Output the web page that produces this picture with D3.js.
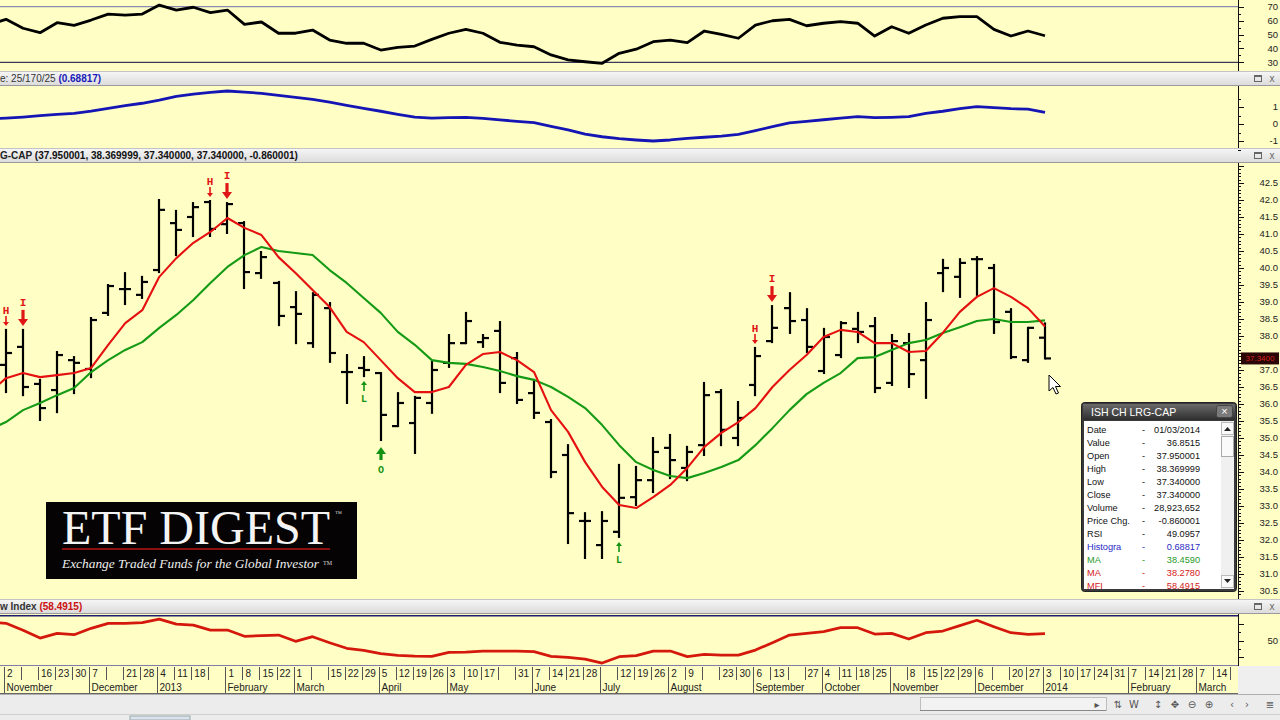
<!DOCTYPE html>
<html><head><meta charset="utf-8">
<script src="https://cdnjs.cloudflare.com/ajax/libs/d3/7.8.5/d3.min.js"></script>
<style>html,body{margin:0;padding:0;overflow:hidden;background:#fff}svg{display:block}</style>
</head><body>
<svg id="chart" width="1280" height="720"></svg>
<script>
// ---------------- DATA ----------------
const weekDates = ["2012-10-26","2012-11-02","2012-11-09","2012-11-16","2012-11-23","2012-11-30","2012-12-07","2012-12-14","2012-12-21","2012-12-28",
"2013-01-04","2013-01-11","2013-01-18","2013-01-25","2013-02-01","2013-02-08","2013-02-15","2013-02-22","2013-03-01","2013-03-08","2013-03-15","2013-03-22","2013-03-29",
"2013-04-05","2013-04-12","2013-04-19","2013-04-26","2013-05-03","2013-05-10","2013-05-17","2013-05-24","2013-05-31","2013-06-07","2013-06-14","2013-06-21","2013-06-28",
"2013-07-05","2013-07-12","2013-07-19","2013-07-26","2013-08-02","2013-08-09","2013-08-16","2013-08-23","2013-08-30","2013-09-06","2013-09-13","2013-09-20","2013-09-27",
"2013-10-04","2013-10-11","2013-10-18","2013-10-25","2013-11-01","2013-11-08","2013-11-15","2013-11-22","2013-11-29","2013-12-06","2013-12-13","2013-12-20","2013-12-27","2014-01-03"];

const openP = [null,37.15,37.68,36.59,36.41,37.29,37.03,38.68,39.38,39.21,39.94,41.32,41.50,41.94,41.29,41.32,39.85,39.56,38.85,37.79,38.82,36.94,37.06,36.91,35.35,35.44,36.03,37.21,37.79,37.82,38.15,37.35,36.32,35.47,34.50,32.56,31.85,32.24,33.26,33.76,34.71,34.12,34.79,36.35,35.00,36.56,37.85,38.82,38.47,36.97,37.44,38.21,38.29,36.62,37.79,37.29,39.85,39.74,40.26,40.00,38.71,37.29,37.95];
const highP = [null,38.18,38.18,36.71,37.53,37.38,38.53,39.50,39.85,39.74,42.00,41.68,41.91,41.97,41.91,41.35,40.47,39.59,39.29,39.26,38.97,37.44,37.38,36.91,36.32,36.21,37.24,38.03,38.68,38.03,38.41,37.50,36.71,35.53,34.79,32.79,32.82,34.21,34.15,35.00,35.09,34.74,36.62,36.41,36.06,37.65,38.88,39.26,38.79,38.21,38.41,38.68,38.53,38.03,38.06,38.97,40.24,40.26,40.32,40.09,38.79,38.24,38.37];
const lowP = [null,36.35,36.26,35.53,35.76,36.32,36.79,38.62,38.94,39.12,39.88,40.38,40.94,40.94,41.03,39.41,39.71,38.32,37.79,37.68,37.24,36.03,36.82,34.94,35.35,34.56,35.74,37.09,37.79,37.68,36.35,36.03,35.59,33.85,31.91,31.47,31.47,32.09,33.03,33.41,33.82,33.76,34.50,34.79,34.79,36.26,37.82,38.09,37.53,36.91,37.38,37.82,36.35,36.56,36.50,36.18,39.32,39.15,39.21,38.09,37.35,37.24,37.34];
const closeP = [null,37.50,36.50,35.88,37.44,37.21,38.47,39.47,39.38,39.59,41.71,41.12,41.79,41.15,41.88,39.88,40.32,38.59,38.65,39.21,37.50,36.94,37.00,35.68,36.03,36.18,37.00,37.79,38.44,37.94,36.62,36.12,35.74,34.00,32.79,32.56,32.56,33.24,33.76,34.59,34.35,34.59,36.26,35.24,35.59,37.41,38.24,38.44,37.68,37.97,38.38,38.12,36.47,37.85,36.88,38.47,40.00,40.15,40.26,38.41,37.38,38.24,37.34];

const maRed = [36.32,36.76,36.91,36.79,36.85,36.91,37.06,37.74,38.38,38.76,39.74,40.29,40.74,41.06,41.47,41.18,40.97,40.32,39.85,39.35,38.85,38.12,37.82,37.29,36.76,36.35,36.35,36.50,37.15,37.47,37.53,37.29,36.94,35.82,35.18,34.29,33.56,33.03,32.94,33.26,33.62,34.12,34.74,35.15,35.47,35.88,36.50,37.00,37.44,37.97,38.18,38.12,37.79,37.79,37.53,37.56,38.09,38.71,39.15,39.41,39.15,38.82,38.278];
const maGreen = [35.24,35.47,35.82,36.03,36.26,36.47,36.94,37.29,37.59,37.82,38.24,38.62,39.06,39.56,40.03,40.38,40.62,40.50,40.44,40.38,39.94,39.56,39.12,38.68,38.12,37.74,37.29,37.21,37.18,37.09,36.97,36.82,36.71,36.50,36.21,35.88,35.38,34.79,34.29,34.06,33.88,33.82,33.97,34.15,34.35,34.79,35.29,35.82,36.29,36.62,36.91,37.35,37.38,37.59,37.79,37.88,38.09,38.26,38.44,38.50,38.41,38.41,38.459];
const rsi = [57,60.9,54.5,51.3,58.5,56.6,60.4,64.7,64.0,64.7,71.2,67.6,69.6,65.7,67.6,57.3,59.0,50.9,50.9,53.2,46.0,43.7,43.7,38.8,40.8,41.7,46.5,50.9,53.7,50.9,44.4,42.4,41.2,35.3,31.7,30.4,29.3,36.5,39.4,44.8,46.0,44.1,52.5,50.1,47.3,56.8,59.9,60.9,56.3,58.1,59.2,58.1,48.9,55.6,50.9,56.8,61.7,62.8,62.8,53.7,48.9,52.5,49.0957];
const macdHist = [0.30,0.35,0.41,0.49,0.57,0.63,0.76,0.92,1.08,1.22,1.41,1.63,1.76,1.86,1.94,1.88,1.80,1.69,1.57,1.45,1.28,1.10,0.92,0.75,0.57,0.41,0.35,0.37,0.39,0.33,0.24,0.16,0.08,-0.14,-0.35,-0.59,-0.75,-0.86,-0.94,-1.00,-0.94,-0.84,-0.78,-0.71,-0.61,-0.39,-0.16,0.06,0.16,0.25,0.35,0.43,0.37,0.39,0.43,0.63,0.75,0.90,1.02,0.96,0.90,0.88,0.68817];
const mfi = [72,70.9,62.5,53.2,58.8,57.2,64.9,70.9,70.9,71.6,76.0,70.0,68.8,62.8,62.8,55.3,56.0,56.8,49.3,54.8,47.6,40.9,38.5,34.4,32.5,31.6,31.3,36.1,36.4,37.6,37.6,37.6,36.8,31.3,30.1,28.0,23.2,30.8,32.0,37.6,37.6,30.8,33.7,32.8,32.8,38.8,47.6,56.8,58.8,60.8,65.6,65.6,58.0,58.8,52.0,59.6,61.6,68.0,74.5,66.8,59.6,57.7,58.4915];

// signal markers (index into weekDates) and their letters
const signalIdx = [1,2,13,14,22,23,37,45,46];
const signalType = ["H","I","H","I","L","O","L","H","I"];

// axis ticks
const priceTicks = [30.5,31.0,31.5,32.0,32.5,33.0,33.5,34.0,34.5,35.0,35.5,36.0,36.5,37.0,38.0,38.5,39.0,39.5,40.0,40.5,41.0,41.5,42.0,42.5];
const rsiTicks = [30,40,50,60,70];
const macdTicks = [-1,0,1];
const mfiTicks = [50];
const dayLabelDates = ["2012-11-02","2012-11-16","2012-11-23","2012-11-30","2012-12-07","2012-12-21","2012-12-28","2013-01-04","2013-01-11","2013-01-18",
"2013-02-01","2013-02-08","2013-02-15","2013-02-22","2013-03-01","2013-03-15","2013-03-22","2013-03-29","2013-04-05","2013-04-12","2013-04-19","2013-04-26",
"2013-05-03","2013-05-10","2013-05-17","2013-05-31","2013-06-07","2013-06-14","2013-06-21","2013-06-28","2013-07-12","2013-07-19","2013-07-26","2013-08-02","2013-08-09",
"2013-08-23","2013-08-30","2013-09-06","2013-09-13","2013-09-27","2013-10-04","2013-10-11","2013-10-18","2013-10-25","2013-11-08","2013-11-15","2013-11-22","2013-11-29",
"2013-12-06","2013-12-20","2013-12-27","2014-01-03","2014-01-10","2014-01-17","2014-01-24","2014-01-31","2014-02-07","2014-02-14","2014-02-21","2014-02-28","2014-03-07","2014-03-14"];
const monthStarts = ["2012-11-02","2012-12-07","2013-01-04","2013-02-01","2013-03-01","2013-04-05","2013-05-03","2013-06-07","2013-07-05","2013-08-02","2013-09-06","2013-10-04","2013-11-01","2013-12-06","2014-01-03","2014-02-07","2014-03-07"];
const monthNames = ["November","December","2013","February","March","April","May","June","July","August","September","October","November","December","2014","February","March"];

// data window
const dwLabels = ["Date","Value","Open","High","Low","Close","Volume","Price Chg.","RSI","Histogra","MA","MA","MFI"];
const dwValues = ["01/03/2014","36.8515","37.950001","38.369999","37.340000","37.340000","28,923,652","-0.860001","49.0957","0.68817","38.4590","38.2780","58.4915"];

// ---------------- DRAW ----------------
const svg = d3.select('#chart');
const FONT = "'Liberation Sans', Arial, sans-serif";
const PLOT_R = 1238;
const YELLOW = '#FFFFC5';
const parse = d3.utcParse('%Y-%m-%d');
const D = weekDates.map(parse);
const x = d3.scaleUtc().domain([parse('2012-11-02'), parse('2014-01-03')]).range([6, 1045]);

svg.append('rect').attr('width',1280).attr('height',720).attr('fill',YELLOW);
const defs = svg.append('defs');
const hg = defs.append('linearGradient').attr('id','hdr').attr('x1',0).attr('y1',0).attr('x2',0).attr('y2',1);
hg.append('stop').attr('offset','0%').attr('stop-color','#f7f7f7');
hg.append('stop').attr('offset','100%').attr('stop-color','#dadada');
const tg = defs.append('linearGradient').attr('id','ttl').attr('x1',0).attr('y1',0).attr('x2',0).attr('y2',1);
tg.append('stop').attr('offset','0%').attr('stop-color','#6a6a6a');
tg.append('stop').attr('offset','100%').attr('stop-color','#2e2e2e');

function clip(id,y0,y1){defs.append('clipPath').attr('id',id).append('rect').attr('x',0).attr('y',y0).attr('width',PLOT_R).attr('height',y1-y0);}
clip('cR',0,70); clip('cM',86,147); clip('cP',163,598); clip('cF',614,666);

const yR = d3.scaleLinear().domain([30,70]).range([62.3,6.7]);
const yM = d3.scaleLinear().domain([-1,1]).range([141,107]);
const yP = d3.scaleLinear().domain([30.5,42.5]).range([591,183]);
const yF = d3.scaleLinear().domain([20,80]).range([665.7,615.7]);

// header bars
function header(y0,y1,parts){
  const g = svg.append('g');
  g.append('rect').attr('x',0).attr('y',y0).attr('width',1280).attr('height',y1-y0).attr('fill','url(#hdr)');
  g.append('line').attr('x1',0).attr('x2',1280).attr('y1',y0+0.5).attr('y2',y0+0.5).attr('stroke','#c4c4c4');
  g.append('line').attr('x1',0).attr('x2',1280).attr('y1',y1-0.5).attr('y2',y1-0.5).attr('stroke','#9a9a9a');
  const t = g.append('text').attr('x',parts.x).attr('y',y1-4).attr('font-family',FONT).attr('font-size',10);
  parts.spans.forEach(s=>t.append('tspan').text(s.t).attr('fill',s.c).attr('font-weight',s.w||'normal'));
  g.append('rect').attr('x',1254.5).attr('y',y0+4.5).attr('width',7).attr('height',6).attr('fill','none').attr('stroke','#666');
  g.append('line').attr('x1',1254.5).attr('x2',1261.5).attr('y1',y0+5.5).attr('y2',y0+5.5).attr('stroke','#666');
  g.append('text').attr('x',1272).attr('y',y1-4).attr('text-anchor','middle').attr('font-family',FONT).attr('font-size',10).attr('fill','#666').text('x');
}
header(71,86,{x:0,spans:[{t:'e: 25/170/25 ',c:'#333'},{t:'(0.68817)',c:'#1a1ab8',w:'bold'}]});
header(148,163,{x:0,spans:[{t:'G-CAP ',c:'#222',w:'bold'},{t:'(37.950001, 38.369999, 37.340000, 37.340000, -0.860001)',c:'#111',w:'bold'}]});
header(599,614,{x:0,spans:[{t:'w Index ',c:'#333',w:'bold'},{t:'(58.4915)',c:'#cc1111',w:'bold'}]});

// ---------- RSI panel ----------
const gR = svg.append('g').attr('clip-path','url(#cR)');
gR.append('line').attr('x1',0).attr('x2',PLOT_R).attr('y1',yR(70)).attr('y2',yR(70)).attr('stroke','#8a8ab0').attr('stroke-width',1.3);
gR.append('line').attr('x1',0).attr('x2',PLOT_R).attr('y1',yR(30)).attr('y2',yR(30)).attr('stroke','#3a3a58').attr('stroke-width',1.3);
gR.append('path').datum(d3.range(rsi.length)).attr('fill','none').attr('stroke','#000').attr('stroke-width',2.8).attr('stroke-linejoin','round')
  .attr('d',d3.line().x(i=>x(D[i])).y(i=>yR(rsi[i])));

// ---------- MACD panel ----------
const gM = svg.append('g').attr('clip-path','url(#cM)');
gM.append('path').datum(d3.range(macdHist.length)).attr('fill','none').attr('stroke','#1515b5').attr('stroke-width',2.8).attr('stroke-linejoin','round')
  .attr('d',d3.line().x(i=>x(D[i])).y(i=>yM(macdHist[i])));

// ---------- Main price panel ----------
const gP = svg.append('g').attr('clip-path','url(#cP)');
const barIdx = d3.range(weekDates.length).filter(i=>openP[i]!=null);
const bars = gP.append('g').attr('stroke','#000').attr('stroke-width',2.2);
bars.selectAll('g').data(barIdx).join('g').each(function(i){
  const g = d3.select(this); const bx = Math.round(x(D[i]));
  g.append('line').attr('x1',bx).attr('x2',bx).attr('y1',yP(highP[i])-1).attr('y2',yP(lowP[i])+1);
  g.append('line').attr('x1',bx-6).attr('x2',bx).attr('y1',yP(openP[i])).attr('y2',yP(openP[i]));
  g.append('line').attr('x1',bx).attr('x2',bx+6).attr('y1',yP(closeP[i])).attr('y2',yP(closeP[i]));
});
gP.append('path').datum(d3.range(maGreen.length)).attr('fill','none').attr('stroke','#159a15').attr('stroke-width',2.1).attr('stroke-linejoin','round')
  .attr('d',d3.line().x(i=>x(D[i])).y(i=>yP(maGreen[i])));
gP.append('path').datum(d3.range(maRed.length)).attr('fill','none').attr('stroke','#e51010').attr('stroke-width',2.1).attr('stroke-linejoin','round')
  .attr('d',d3.line().x(i=>x(D[i])).y(i=>yP(maRed[i])));

// signal markers
const sig = gP.append('g');
signalIdx.forEach((idx,k)=>{
  const t = signalType[k]; const sx = Math.round(x(D[idx]));
  const up = (t==='L'||t==='O'); const big = (t==='I'||t==='O');
  const col = up ? '#139313' : '#e01515';
  const g = sig.append('g').attr('fill',col).attr('stroke',col);
  if(!up){
    const hy = yP(highP[idx]);
    const tip = hy-4, len = big?16:10, hw = big?5:3, hh = big?7:4;
    g.append('line').attr('x1',sx).attr('x2',sx).attr('y1',tip-len).attr('y2',tip-hh+1).attr('stroke-width',big?3.2:1.6);
    g.append('path').attr('stroke','none').attr('d',`M${sx-hw},${tip-hh} L${sx+hw},${tip-hh} L${sx},${tip} Z`);
    g.append('text').attr('x',sx).attr('y',tip-len-(big?4:2)).attr('text-anchor','middle').attr('stroke','none')
      .attr('font-family',"'Liberation Mono','DejaVu Sans Mono',monospace").attr('font-weight','bold').attr('font-size',11).text(t);
  } else {
    const ly = yP(lowP[idx]);
    const tip = ly+(big?7:5), len = big?13:10, hw = big?5:3, hh = big?7:4;
    g.append('line').attr('x1',sx).attr('x2',sx).attr('y1',tip+hh-1).attr('y2',tip+len).attr('stroke-width',big?3.2:1.6);
    g.append('path').attr('stroke','none').attr('d',`M${sx-hw},${tip+hh} L${sx+hw},${tip+hh} L${sx},${tip} Z`);
    g.append('text').attr('x',sx).attr('y',tip+len+(big?13:11)).attr('text-anchor','middle').attr('stroke','none')
      .attr('font-family',"'Liberation Mono','DejaVu Sans Mono',monospace").attr('font-weight','bold').attr('font-size',10).text(t);
  }
});

// ---------- MFI panel ----------
const gF = svg.append('g').attr('clip-path','url(#cF)');
gF.append('line').attr('x1',0).attr('x2',PLOT_R).attr('y1',yF(80)).attr('y2',yF(80)).attr('stroke','#1e1e70').attr('stroke-width',1.6);
gF.append('line').attr('x1',0).attr('x2',PLOT_R).attr('y1',yF(20)).attr('y2',yF(20)).attr('stroke','#7e7ea6').attr('stroke-width',1.4);
gF.append('path').datum(d3.range(mfi.length)).attr('fill','none').attr('stroke','#d4180c').attr('stroke-width',2.8).attr('stroke-linejoin','round')
  .attr('d',d3.line().x(i=>x(D[i])).y(i=>yF(mfi[i])));

// ---------- right axes ----------
const ax = svg.append('g').attr('font-family',FONT).attr('font-size',9.5).attr('fill','#222');
function vaxis(y0,y1){ax.append('line').attr('x1',PLOT_R+0.5).attr('x2',PLOT_R+0.5).attr('y1',y0).attr('y2',y1).attr('stroke','#111');}
function ticks(scale,vals,len){vals.forEach(v=>{const yy=Math.round(scale(v))+0.5;ax.append('line').attr('x1',PLOT_R).attr('x2',PLOT_R+len).attr('y1',yy).attr('y2',yy).attr('stroke','#111');});}
function labels(scale,vals,fmt){vals.forEach(v=>ax.append('text').attr('x',1278).attr('y',scale(v)+3.3).attr('text-anchor','end').text(fmt(v)));}
vaxis(0,71); ticks(yR,d3.range(30,71,10),6); ticks(yR,d3.range(35,70,10),3); labels(yR,rsiTicks,d3.format('d'));
vaxis(86,148); ticks(yM,[-1,0,1],6); ticks(yM,[-1.5,-0.5,0.5,1.5],3); labels(yM,macdTicks,v=>v<0?'-'+Math.abs(v):String(v));
vaxis(163,599); ticks(yP,d3.range(304,431,1).map(v=>v/10),3); ticks(yP,d3.range(305,431,5).map(v=>v/10),6); labels(yP,priceTicks,d3.format('.1f'));
vaxis(614,666); ticks(yF,[30,50,70],6); ticks(yF,[40,60],3); labels(yF,mfiTicks,d3.format('d'));

// current price marker
const cp = svg.append('g');
cp.append('rect').attr('x',1241).attr('y',yP(closeP[closeP.length-1])-6).attr('width',38).attr('height',12).attr('fill','#2a0606');
cp.append('text').attr('x',1260).attr('y',yP(closeP[closeP.length-1])+3).attr('text-anchor','middle').attr('font-family',FONT).attr('font-size',8).attr('fill','#d42020').text('37.3400');

// ---------- x axis ----------
const xa = svg.append('g').attr('font-family',FONT).attr('font-size',10).attr('fill','#222');
xa.append('line').attr('x1',0).attr('x2',PLOT_R).attr('y1',693.5).attr('y2',693.5).attr('stroke','#666');
const allWeeks = d3.utcFriday.range(parse('2012-10-20'), parse('2014-03-29'));
allWeeks.forEach(d=>{const xx=Math.round(x(d))-1.5; if(xx<PLOT_R && xx>0) xa.append('line').attr('x1',xx).attr('x2',xx).attr('y1',667).attr('y2',680).attr('stroke','#555');});
dayLabelDates.map(parse).forEach(d=>{const xx=x(d)+1; if(xx<PLOT_R-6) xa.append('text').attr('x',xx).attr('y',677).text(d3.utcFormat('%-d')(d));});
monthStarts.map(parse).forEach((d,k)=>{const xx=Math.round(x(d))-1.5;
  xa.append('line').attr('x1',xx).attr('x2',xx).attr('y1',680).attr('y2',693).attr('stroke','#555');
  xa.append('text').attr('x',xx+2).attr('y',690.5).text(monthNames[k]);});
xa.append('rect').attr('x',PLOT_R).attr('y',666).attr('width',1280-PLOT_R).attr('height',28).attr('fill','#efefef');

// ---------- bottom status bar ----------
const sb = svg.append('g');
sb.append('rect').attr('x',0).attr('y',694).attr('width',1280).attr('height',26).attr('fill','#ececec');
sb.append('line').attr('x1',0).attr('x2',1280).attr('y1',694.5).attr('y2',694.5).attr('stroke','#b0b0b0');
sb.append('rect').attr('x',920.5).attr('y',697.5).attr('width',186).attr('height',13).attr('fill','#f2f2f2').attr('stroke','#bdbdbd');
sb.append('line').attr('x1',920).attr('x2',1106).attr('y1',710.5).attr('y2',710.5).attr('stroke','#888');
const icons = [[1097,'▸'],[1118,'⇅'],[1134,'W'],[1158,'↕'],[1175,'✥'],[1192,'⊖'],[1209,'⊕'],[1232,'‹'],[1247,'›'],[1270,'≣']];
icons.forEach(([ix,s])=>sb.append('text').attr('x',ix).attr('y',708).attr('text-anchor','middle').attr('font-family',"'DejaVu Sans',sans-serif").attr('font-size',10).attr('fill','#555').text(s));
sb.append('line').attr('x1',0).attr('x2',1280).attr('y1',714.5).attr('y2',714.5).attr('stroke','#cfcfcf');
sb.append('rect').attr('x',130).attr('y',716).attr('width',60).attr('height',4).attr('fill','#dde3ee').attr('stroke','#9aa');

// ---------- logo ----------
const lg = svg.append('g');
lg.append('rect').attr('x',46).attr('y',502).attr('width',311).attr('height',77).attr('fill','#050303');
lg.append('text').attr('x',62).attr('y',544).attr('font-family',"'Liberation Serif','Times New Roman',serif").attr('font-size',47.5).attr('fill','#f4f4f4')
  .attr('textLength',268).attr('lengthAdjust','spacingAndGlyphs').text('ETF DIGEST');
lg.append('text').attr('x',335).attr('y',516).attr('font-family',"'Liberation Serif',serif").attr('font-size',7).attr('fill','#ddd').text('™');
lg.append('line').attr('x1',62).attr('x2',330).attr('y1',549).attr('y2',549).attr('stroke','#8a1010').attr('stroke-width',2);
lg.append('text').attr('x',62).attr('y',568).attr('font-family',"'Liberation Serif',serif").attr('font-style','italic').attr('font-size',12.5).attr('fill','#eee')
  .attr('textLength',257).attr('lengthAdjust','spacingAndGlyphs').text('Exchange Traded Funds for the Global Investor');
lg.append('text').attr('x',323).attr('y',565).attr('font-family',"'Liberation Serif',serif").attr('font-size',6).attr('fill','#ddd').text('TM');

// ---------- data window ----------
const dw = svg.append('g').attr('font-family',FONT);
dw.append('rect').attr('x',1081.5).attr('y',402.5).attr('width',155).attr('height',189).attr('rx',3).attr('fill','#3a3a3a').attr('stroke','#222');
dw.append('rect').attr('x',1083).attr('y',404).attr('width',152).attr('height',16).attr('fill','url(#ttl)');
dw.append('text').attr('x',1091).attr('y',415.5).attr('font-size',10.5).attr('fill','#fff').text('ISH CH LRG-CAP');
dw.append('rect').attr('x',1216.5).attr('y',405.5).attr('width',16).attr('height',12).attr('rx',2).attr('fill','#7a7a7a').attr('stroke','#444');
dw.append('text').attr('x',1224.5).attr('y',415).attr('text-anchor','middle').attr('font-size',11).attr('fill','#fff').text('×');
dw.append('rect').attr('x',1084).attr('y',421).attr('width',150).attr('height',168).attr('fill','#ffffff');
defs.append('clipPath').attr('id','cDW').append('rect').attr('x',1084).attr('y',421).attr('width',150).attr('height',168);
const dwBody = dw.append('g').attr('clip-path','url(#cDW)').attr('font-size',9.2);
const rowCol = k => k===9 ? '#2a2ac4' : k===10 ? '#1f9a1f' : (k===11||k===12) ? '#d42020' : '#111';
dwLabels.forEach((lab,k)=>{
  const yy = 432.5 + k*13;
  dwBody.append('text').attr('x',1087).attr('y',yy).attr('fill',rowCol(k)).text(lab);
  dwBody.append('text').attr('x',1142).attr('y',yy).attr('fill',rowCol(k)).text('-');
  dwBody.append('text').attr('x',1200).attr('y',yy).attr('text-anchor','end').attr('fill',rowCol(k)).text(dwValues[k]);
});
dw.append('rect').attr('x',1221).attr('y',421).attr('width',13).attr('height',168).attr('fill','#f0f0f0');
dw.append('rect').attr('x',1221.5).attr('y',422.5).attr('width',12).attr('height',12).attr('fill','#fafafa').attr('stroke','#bbb');
dw.append('path').attr('d','M1224,431 L1231,431 L1227.5,427 Z').attr('fill','#222');
dw.append('rect').attr('x',1221.5).attr('y',436.5).attr('width',12).attr('height',20).attr('fill','#fafafa').attr('stroke','#aaa');
dw.append('rect').attr('x',1221.5).attr('y',575.5).attr('width',12).attr('height',12).attr('fill','#fafafa').attr('stroke','#bbb');
dw.append('path').attr('d','M1224,579 L1231,579 L1227.5,583 Z').attr('fill','#222');

// mouse cursor
svg.append('path').attr('transform','translate(1049,375)')
  .attr('d','M0,0 L0,16 L4,12.5 L7,19 L9.5,18 L6.5,11.5 L11.5,11.5 Z').attr('fill','#fff').attr('stroke','#000').attr('stroke-width',1);
</script>
</body></html>
